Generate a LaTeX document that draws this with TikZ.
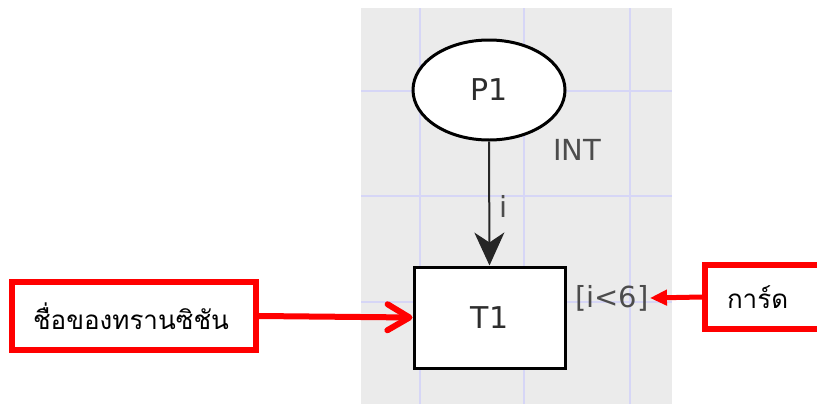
\documentclass[tikz,border=0pt]{standalone}
\usepackage{fontspec}
\setmainfont{DejaVu Sans}
\newfontfamily\thaifont[Script=Thai]{Loma}
\usetikzlibrary{shapes.geometric,arrows.meta}

\definecolor{panelgray}{RGB}{235,235,235}
\definecolor{gridblue}{RGB}{214,214,246}
\definecolor{inkgray}{RGB}{45,45,45}
\definecolor{callred}{RGB}{255,0,0}

\tikzset{
  place/.style={ellipse, draw=black, fill=white, line width=3pt,
    minimum width=152pt, minimum height=100pt, inner sep=0pt,
    font=\fontsize{30}{30}\selectfont, text=inkgray},
  trans/.style={rectangle, draw=black, fill=white, line width=3pt,
    minimum width=151pt, minimum height=101pt, inner sep=0pt,
    font=\fontsize{30}{30}\selectfont, text=inkgray},
  inscr/.style={inner sep=1pt, font=\fontsize{29}{29}\selectfont, text=inkgray!85!white},
  arc/.style={line width=2pt, draw=black!85,
    -{Stealth[length=33pt, width=30pt, inset=10pt]}},
  callout/.style={rectangle, draw=callred, fill=white, line width=6pt,
    align=left, font=\thaifont\fontsize{26}{26}\selectfont},
  pointer/.style={draw=callred, line width=6pt},
  gridline/.style={draw=gridblue, line width=2pt}
}

\begin{document}
\begin{tikzpicture}[x=1pt, y=-1pt]
  \useasboundingbox (0,0) rectangle (817,405);
  \clip (0,0) rectangle (817,405);

  % editor canvas with its grid
  \fill[panelgray] (361,8) rectangle (672,404);
  \foreach \gx in {420,524,630} \draw[gridline] (\gx,8) -- (\gx,404);
  \foreach \gy in {90.5,196,302} \draw[gridline] (361,\gy) -- (672,\gy);

  % place, transition and their inscriptions
  \node[place] (p1) at (489,90) {P1};
  \node[trans] (t1) at (489.5,317.5) {T1};
  \node[inscr] (colset) at (577,150) {INT};
  \node[inscr] (guard) at (612,298) {[i<6]};
  \draw[arc] (p1.south) -- (t1.north)
    node[inscr, pos=0.52, right=8pt] (arcexpr) {i};

  % explanatory callouts
  \node[callout, text width=201.5pt, inner xsep=21pt, minimum height=68.5pt]
    (namebox) at (133.75,316) {\raisebox{-4pt}{ชื่อของทรานซิชัน}};
  \node[callout, text width=85pt, inner xsep=22pt, minimum height=64.5pt, anchor=west]
    (guardbox) at (702,297) {\raisebox{-5pt}{การ์ด}};

  \draw[pointer, -{Straight Barb[length=22pt, width=26pt, round]}]
    (namebox.east) -- (t1.west);
  \draw[pointer, line width=5pt, -{Triangle[length=17pt, width=15pt]}]
    (guardbox.west) -- (guard.east);
\end{tikzpicture}
\end{document}
